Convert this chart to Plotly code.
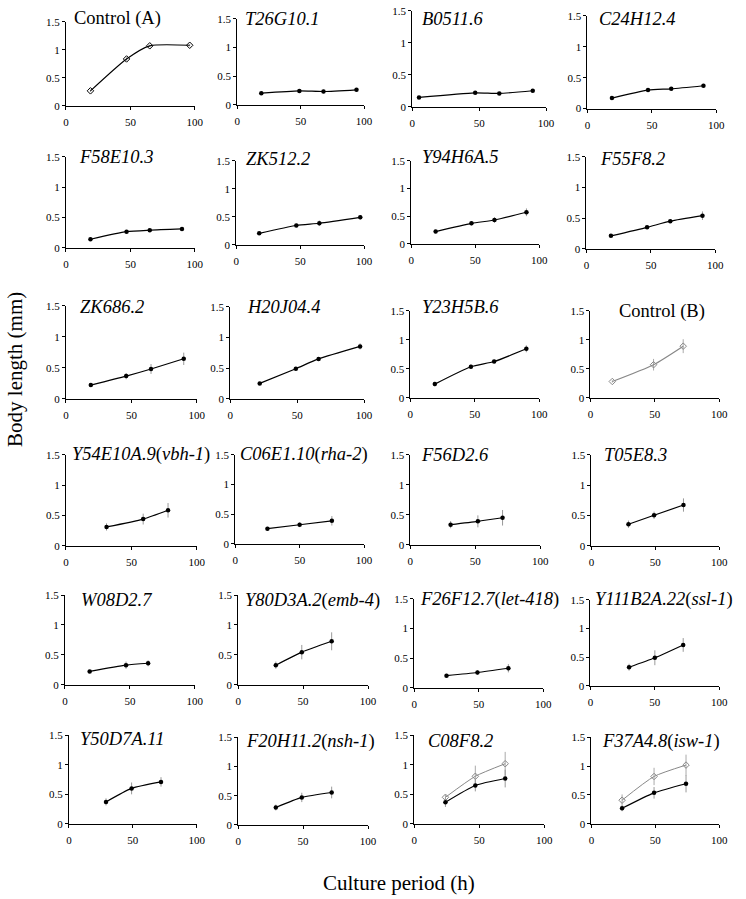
import plotly.graph_objects as go

# ---------------- data ----------------
titles = [
    "Control (A)", "<i>T26G10.1</i>", "<i>B0511.6</i>", "<i>C24H12.4</i>",
    "<i>F58E10.3</i>", "<i>ZK512.2</i>", "<i>Y94H6A.5</i>", "<i>F55F8.2</i>",
    "<i>ZK686.2</i>", "<i>H20J04.4</i>", "<i>Y23H5B.6</i>", "Control (B)",
    "<i>Y54E10A.9</i>(<i>vbh-1</i>)", "<i>C06E1.10</i>(<i>rha-2</i>)", "<i>F56D2.6</i>", "<i>T05E8.3</i>",
    "<i>W08D2.7</i>", "<i>Y80D3A.2</i>(<i>emb-4</i>)", "<i>F26F12.7</i>(<i>let-418</i>)", "<i>Y111B2A.22</i>(<i>ssl-1</i>)",
    "<i>Y50D7A.11</i>", "<i>F20H11.2</i>(<i>nsh-1</i>)", "<i>C08F8.2</i>", "<i>F37A4.8</i>(<i>isw-1</i>)",
]

hours = [
    [19, 47, 65, 96], [19, 49, 68, 94], [5, 47, 65, 90], [19, 47, 65, 90],
    [19, 47, 65, 90], [18, 47, 65, 97], [19, 47, 65, 90], [19, 47, 65, 90],
    [19, 46, 65, 90], [22, 49, 66, 97], [19, 47, 65, 90], [17, 49, 72],
    [31, 59, 78], [25, 50, 75], [31, 52, 71], [29, 49, 72],
    [19, 47, 64], [29, 49, 72], [25, 49, 73], [30, 50, 72],
    [29, 49, 72], [29, 49, 72], [24, 47, 70], [24, 49, 74],
]

length_mm = [
    [0.265, 0.835, 1.07, 1.08], [0.20, 0.24, 0.23, 0.26], [0.145, 0.217, 0.207, 0.249], [0.17, 0.30, 0.32, 0.37],
    [0.14, 0.265, 0.29, 0.31], [0.205, 0.345, 0.385, 0.49], [0.22, 0.37, 0.43, 0.57], [0.21, 0.35, 0.45, 0.54],
    [0.22, 0.365, 0.48, 0.645], [0.25, 0.49, 0.65, 0.855], [0.235, 0.535, 0.625, 0.845], [0.28, 0.57, 0.89],
    [0.31, 0.44, 0.585], [0.255, 0.32, 0.387], [0.335, 0.39, 0.45], [0.355, 0.503, 0.672],
    [0.224, 0.328, 0.36], [0.328, 0.546, 0.727], [0.205, 0.258, 0.33], [0.325, 0.49, 0.714],
    [0.372, 0.60, 0.71], [0.297, 0.47, 0.554], [0.367, 0.65, 0.767], [0.27, 0.537, 0.695],
]

length_sd = [
    [0.02, 0.03, 0.02, 0.02], [0.03, 0.03, 0.03, 0.03], [0.02, 0.02, 0.02, 0.02], [0.02, 0.03, 0.02, 0.03],
    [0.02, 0.02, 0.02, 0.02], [0.02, 0.03, 0.05, 0.04], [0.03, 0.04, 0.05, 0.07], [0.02, 0.03, 0.03, 0.07],
    [0.02, 0.05, 0.08, 0.10], [0.02, 0.03, 0.03, 0.05], [0.04, 0.04, 0.03, 0.06], [0.02, 0.10, 0.12],
    [0.06, 0.09, 0.12], [0.03, 0.04, 0.08], [0.06, 0.10, 0.13], [0.06, 0.06, 0.11],
    [0.02, 0.06, 0.05], [0.06, 0.12, 0.15], [0.03, 0.04, 0.07], [0.06, 0.13, 0.12],
    [0.06, 0.10, 0.08], [0.05, 0.08, 0.10], [0.08, 0.10, 0.15], [0.05, 0.10, 0.15],
]

# control curves drawn inside the last two panels (C08F8.2, F37A4.8)
ctrl_hours = [[24, 47, 70], [24, 49, 74]]
ctrl_length = [[0.45, 0.805, 1.017], [0.41, 0.82, 1.017]]
ctrl_sd = [[0.04, 0.18, 0.20], [0.10, 0.15, 0.18]]

control_panels = [0, 11]
y_ticks = [0, 0.5, 1, 1.5]
y_tick_text = ["0", "0.5", "1", "1.5"]
x_ticks = [0, 50, 100]

# ---------------- layout (pixel boxes: x0, x100, ytop, ybottom) ----------------
W, H = 746, 899
boxes = [
    (64, 195, 16, 101), (238, 367, 13, 100), (416, 552, 5, 102), (594, 725, 10, 104),
    (64, 195, 153, 245), (237, 367, 157, 242), (415, 545, 157, 241), (593, 724, 153, 246),
    (64, 197, 304, 398), (231, 367, 305, 398), (414, 545, 309, 397), (597, 728, 309, 397),
    (64, 197, 455, 547), (236, 367, 455, 545), (414, 546, 455, 546), (598, 728, 455, 547),
    (63, 195, 597, 688), (239, 371, 597, 688), (418, 549, 601, 691), (597, 728, 602, 689),
    (67, 197, 739, 829), (239, 371, 741, 830), (418, 550, 739, 829), (598, 728, 741, 829),
]
# title centre positions (px)
title_pos = [
    (116, 13), (284, 13), (457, 13), (645, 13),
    (115, 153), (280, 155), (465, 153), (640, 155),
    (111, 305), (285, 305), (465, 305), (670, 310),
    (140, 455), (306, 455), (459, 455), (643, 455),
    (115, 602), (315, 603), (494, 602), (672, 602),
    (121, 743), (313, 745), (465, 745), (669, 745),
]

SERIF = "Liberation Serif, Times New Roman, DejaVu Serif, serif"
fig = go.Figure()
layout = dict(
    width=W, height=H, margin=dict(l=0, r=0, t=0, b=0),
    paper_bgcolor="white", plot_bgcolor="white", showlegend=False,
    font=dict(family=SERIF, color="black"),
)
annotations = []

for i, (x0, x1, yt, yb) in enumerate(boxes):
    n = i + 1
    xa = "x" if n == 1 else f"x{n}"
    ya = "y" if n == 1 else f"y{n}"
    xkey = "xaxis" if n == 1 else f"xaxis{n}"
    ykey = "yaxis" if n == 1 else f"yaxis{n}"
    layout[xkey] = dict(
        domain=[x0 / W, x1 / W], anchor=ya, range=[0, 100], tickvals=x_ticks,
        showline=True, linecolor="black", linewidth=1, showgrid=False, zeroline=False,
        ticks="outside", ticklen=3, tickcolor="black", ticklabelstandoff=3,
        tickfont=dict(family=SERIF, size=11, color="black"),
    )
    layout[ykey] = dict(
        domain=[1 - yb / H, 1 - yt / H], anchor=xa, range=[0, 1.5],
        tickvals=y_ticks, ticktext=y_tick_text,
        showline=True, linecolor="black", linewidth=1, showgrid=False, zeroline=False,
        ticks="outside", ticklen=3, tickcolor="black",
        tickfont=dict(family=SERIF, size=11, color="black"),
    )

    if i == 11:
        line_col, err_col = "#888888", "#aaaaaa"
    else:
        line_col, err_col = "black", "#999999"

    if i in control_panels:
        marker = dict(symbol="diamond-open", size=5, color=line_col, line=dict(width=1, color=line_col))
    else:
        marker = dict(symbol="circle", size=4.5, color="black")

    # control curve overlay
    if i in (22, 23):
        k = i - 22
        fig.add_trace(go.Scatter(
            x=ctrl_hours[k], y=ctrl_length[k], mode="lines+markers", xaxis=xa, yaxis=ya,
            line=dict(color="#888888", width=1, shape="spline", smoothing=0.6),
            marker=dict(symbol="diamond-open", size=5, color="#888888"),
            error_y=dict(type="data", array=ctrl_sd[k], color="#aaaaaa", thickness=1, width=0),
        ))

    fig.add_trace(go.Scatter(
        x=hours[i], y=length_mm[i], mode="lines+markers", xaxis=xa, yaxis=ya,
        line=dict(color=line_col, width=1.2, shape="spline", smoothing=0.6),
        marker=marker,
        error_y=dict(type="data", array=length_sd[i], color=err_col, thickness=1, width=0),
    ))

    tx, ty = title_pos[i]
    annotations.append(dict(
        text=titles[i], x=tx / W, y=1 - ty / H, xref="paper", yref="paper",
        xanchor="center", yanchor="middle", showarrow=False, borderpad=0,
        font=dict(family=SERIF, size=18.5, color="black"),
    ))

annotations.append(dict(
    text="Body length (mm)", x=12 / W, y=1 - 368 / H, xref="paper", yref="paper",
    xanchor="center", yanchor="middle", textangle=-90, showarrow=False,
    font=dict(family=SERIF, size=21, color="black"),
))
annotations.append(dict(
    text="Culture period (h)", x=402 / W, y=1 - 889 / H, xref="paper", yref="paper",
    xanchor="center", yanchor="middle", showarrow=False,
    font=dict(family=SERIF, size=21, color="black"),
))
layout["annotations"] = annotations
fig.update_layout(**layout)
fig.write_html("out.html", config={"displayModeBar": False},
               post_script="document.body.style.margin='0px';")
